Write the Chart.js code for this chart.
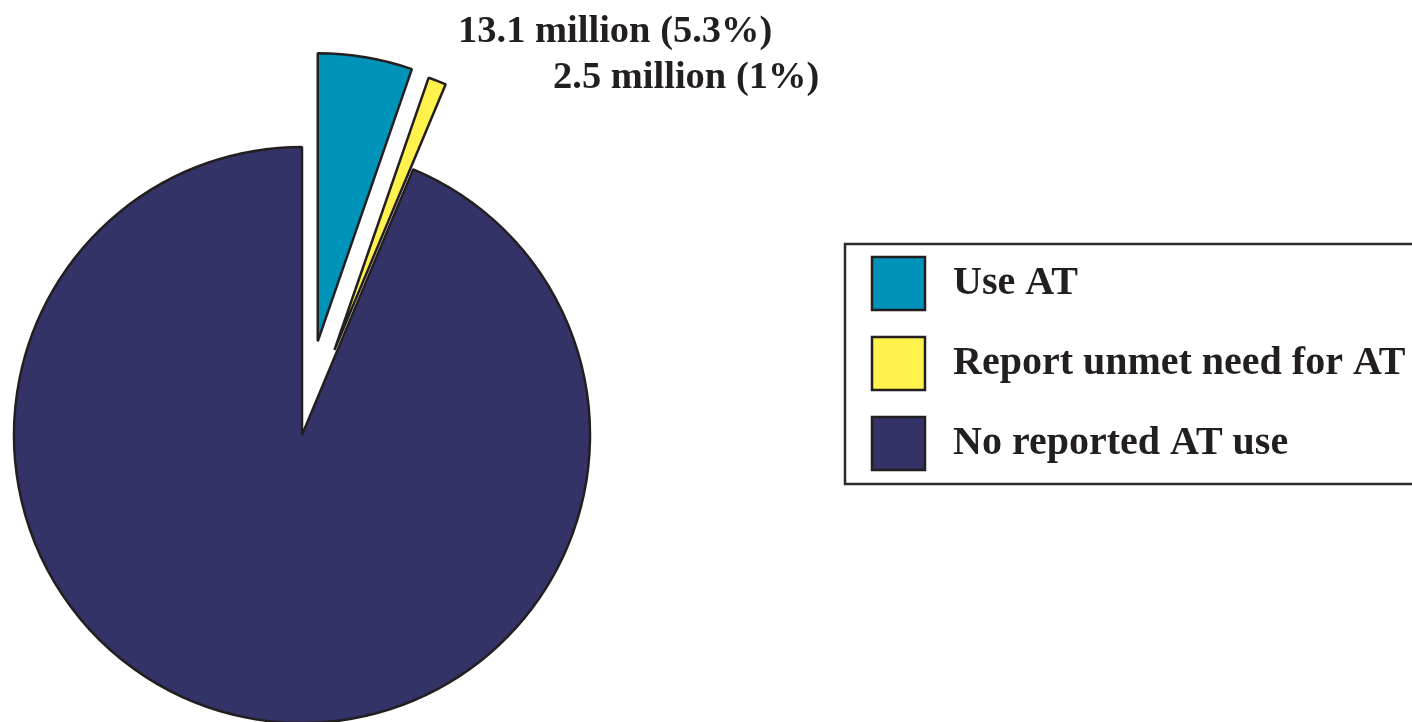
<!DOCTYPE html>
<html>
<head>
<meta charset="utf-8">
<script src="https://cdn.jsdelivr.net/npm/chart.js@4/dist/chart.umd.min.js"></script>
<style>
  html, body { margin: 0; padding: 0; background: #fff; overflow: hidden; }
  canvas { display: block; }
</style>
</head>
<body>
<canvas id="atChart" width="1412" height="722"></canvas>
<script>
// Data for AT pie
const categories = ["Use AT", "Report unmet need for AT", "No reported AT use"];
const millions = [13.1, 2.5, 231.6];
const valueLabels = ["13.1 million (5.3%)", "2.5 million (1%)", ""];
const sliceColors = ["#0093BA", "#FFF24C", "#333368"];
const explode = [95, 91, 0];

const ink = "#231f20";
const labelFont = "bold 38.5px 'Liberation Serif', 'Times New Roman', serif";
const legendFont = "bold 40px 'Liberation Serif', 'Times New Roman', serif";

// pull slices straight out along their mid angle (Chart.js "offset" also grows the arc)
const explodeSlices = {
  id: "explodeSlices",
  beforeDatasetDraw(chart, args) {
    const ctx = chart.ctx;
    args.meta.data.forEach((arc, i) => {
      const mid = (arc.startAngle + arc.endAngle) / 2;
      const d = explode[i] || 0;
      ctx.save();
      ctx.translate(Math.cos(mid) * d, Math.sin(mid) * d);
      arc.draw(ctx, chart.chartArea);
      ctx.restore();
    });
    return false;
  },
};

// slice labels + boxed legend
const annotations = {
  id: "annotations",
  afterDraw(chart) {
    const ctx = chart.ctx;
    ctx.save();
    ctx.font = labelFont;
    ctx.fillStyle = ink;
    ctx.textBaseline = "alphabetic";
    ctx.textAlign = "left";
    ctx.fillText(valueLabels[0], 458, 42);
    ctx.fillText(valueLabels[1], 553, 88);

    // legend box
    ctx.lineWidth = 2.5;
    ctx.strokeStyle = "#2b2b2b";
    ctx.strokeRect(845, 244, 620, 240);

    ctx.font = legendFont;
    categories.forEach((label, i) => {
      const y = 257 + i * 80;
      ctx.fillStyle = sliceColors[i];
      ctx.fillRect(872, y, 53, 53);
      ctx.lineWidth = 2.5;
      ctx.strokeStyle = ink;
      ctx.strokeRect(872, y, 53, 53);
      ctx.fillStyle = ink;
      ctx.fillText(label, 953, 294 + i * 80);
    });
    ctx.restore();
  },
};

const atChartCtx = document.getElementById("atChart").getContext("2d");
new Chart(atChartCtx, {
  type: "pie",
  data: {
    labels: categories,
    datasets: [
      {
        data: millions,
        backgroundColor: sliceColors,
        borderColor: ink,
        borderWidth: 2.5,
        hoverOffset: 0,
        clip: false,
      },
    ],
  },
  options: {
    responsive: false,
    animation: false,
    radius: 288,
    layout: { padding: { left: 0, right: 808, top: 148, bottom: 0 } },
    plugins: {
      legend: { display: false },
      tooltip: { enabled: false },
    },
  },
  plugins: [explodeSlices, annotations],
});
</script>
</body>
</html>
